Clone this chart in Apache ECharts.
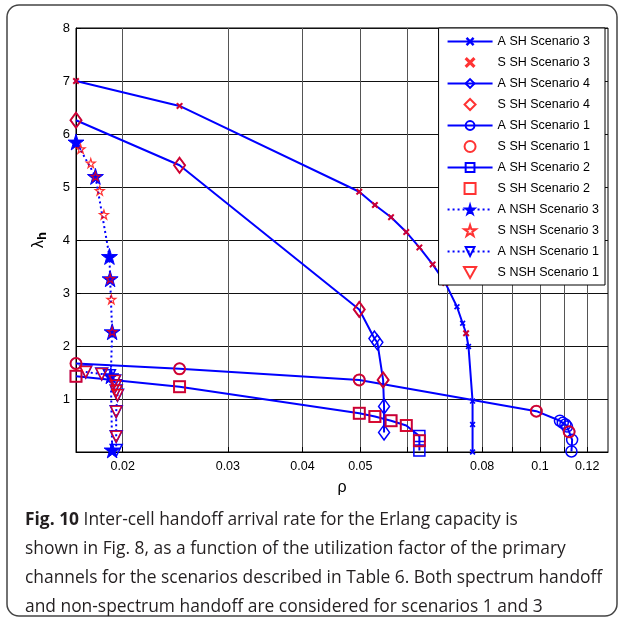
<!DOCTYPE html>
<html>
<head>
<meta charset="utf-8">
<script src="https://cdn.jsdelivr.net/npm/echarts@6/dist/echarts.min.js"></script>
<style>
  html, body { margin: 0; padding: 0; background: #fff; }
  #chart { width: 625px; height: 619px; }
</style>
</head>
<body>
<div id="chart"></div>
<script>
// data: [rho, lambda_h]
const aSh3 = [[0.0167,7.0],[0.0249,6.53],[0.0498,4.91],[0.0529,4.66],[0.0563,4.43],[0.0597,4.15],[0.0628,3.86],[0.0661,3.54],[0.0694,3.19],[0.0726,2.74],[0.0742,2.43],[0.0752,2.24],[0.0759,1.99],[0.0771,0.96],[0.0771,0.52],[0.0771,0]];
const sSh3 = [[0.0167,7.0],[0.0249,6.53],[0.0498,4.91],[0.0529,4.66],[0.0563,4.43],[0.0597,4.15],[0.0628,3.86],[0.0661,3.54],[0.0694,3.19],[0.0752,2.24]];
const aSh4 = [[0.0167,6.26],[0.0249,5.41],[0.0498,2.69],[0.0528,2.14],[0.0534,2.07],[0.0546,1.36],[0.0548,0.86],[0.0548,0.37]];
const sSh4 = [[0.0167,6.26],[0.0249,5.41],[0.0498,2.69],[0.0546,1.36]];
const aSh1 = [[0.0167,1.67],[0.0249,1.57],[0.0498,1.36],[0.0986,0.77],[0.108,0.59],[0.1092,0.55],[0.1103,0.52],[0.111,0.48],[0.1119,0.38],[0.1132,0.23],[0.1129,0.01]];
const sSh1 = [[0.0167,1.67],[0.0249,1.57],[0.0498,1.36],[0.0986,0.77],[0.1119,0.38]];
const aSh2 = [[0.0167,1.43],[0.0249,1.23],[0.0498,0.73],[0.0529,0.67],[0.0563,0.59],[0.0597,0.5],[0.0628,0.3],[0.0628,0.21],[0.0628,0.03]];
const sSh2 = [[0.0167,1.43],[0.0249,1.23],[0.0498,0.73],[0.0529,0.67],[0.0563,0.59],[0.0597,0.5],[0.0628,0.21]];
const aNsh3 = [[0.0167,5.85],[0.018,5.2],[0.019,3.69],[0.01905,3.27],[0.0192,2.27],[0.0191,1.44],[0.0192,0.04]];
const sNsh3 = [[0.017,5.72],[0.01768,5.45],[0.018,5.2],[0.0183,4.93],[0.0186,4.48],[0.01905,3.27],[0.01914,2.88],[0.0192,2.27]];
const aNsh1 = [[0.01734,1.51],[0.01844,1.47],[0.019,1.44],[0.01939,1.34],[0.01945,1.25],[0.0195,1.15],[0.0196,1.07],[0.0195,0.76],[0.0195,0.29],[0.0195,0.03]];
const sNsh1 = [[0.01734,1.51],[0.01844,1.47],[0.01939,1.34],[0.01945,1.25],[0.0195,1.15],[0.0196,1.07],[0.0195,0.76],[0.0195,0.29]];

const xTicks = [0.02,0.03,0.04,0.05,0.06,0.07,0.08,0.09,0.1,0.11,0.12];
const xLabels = [0.02,0.03,0.04,0.05,0.08,0.1,0.12];

const BLUE = '#0000ff';
const RED = '#ff0000';
const NONE = 'rgba(0,0,0,0)';
// marker shapes as paths so the legend keeps their aspect
const XMARK = 'path://M0,2L2,0L5,3L8,0L10,2L7,5L10,8L8,10L5,7L2,10L0,8L3,5Z';
const STAR = 'path://M50,0L61,35L98,35L68,57L79,91L50,70L21,91L32,57L2,35L39,35Z';
const DIAMOND = 'path://M5,0L10,5L5,10L0,5Z';
const SQUARE = 'path://M0,0L10,0L10,10L0,10Z';
const TRIDOWN = 'path://M0,0L10,0L5,9Z';

function aLine(name, data, symbol, size, dotted, extra) {
  return Object.assign({
    name: name, type: 'line', data: data, z: 2,
    symbol: symbol, symbolSize: size,
    lineStyle: { color: BLUE, width: 2, type: dotted ? [2, 3] : 'solid' },
    itemStyle: { color: NONE, borderColor: BLUE, borderWidth: 1.5 },
    emphasis: { disabled: true }
  }, extra || {});
}
function sDots(name, data, symbol, size, extra) {
  return Object.assign({
    name: name, type: 'scatter', data: data, z: 4,
    symbol: symbol, symbolSize: size,
    itemStyle: { color: NONE, borderColor: RED, borderWidth: 2 },
    emphasis: { disabled: true }
  }, extra || {});
}

let chart = echarts.init(document.getElementById('chart'));
chart.setOption({
  animation: false,
  textStyle: { fontFamily: 'Liberation Sans, Arial, sans-serif' },
  grid: { left: 76, right: 17, top: 28, bottom: 167, show: true, borderColor: '#000', borderWidth: 1 },
  xAxis: {
    type: 'log', logBase: 10, min: 0.0167, max: 0.13,
    name: 'ρ', nameLocation: 'middle', nameGap: 28,
    nameTextStyle: { fontSize: 16, color: '#000' },
    axisLine: { lineStyle: { color: '#000' } },
    axisTick: { inside: true, customValues: xTicks, lineStyle: { color: '#000' } },
    axisLabel: { customValues: xLabels, color: '#000', fontSize: 12.5, margin: 8,
      formatter: v => String(+(+v).toPrecision(3)) },
    splitLine: { show: true, lineStyle: { color: '#555', width: 1 } }
  },
  yAxis: {
    type: 'value', min: 0, max: 8, interval: 1,
    name: '{l|λ}{h|h}', nameLocation: 'middle', nameGap: 27,
    nameTextStyle: { color: '#000', rich: {
      l: { fontSize: 16, color: '#000' },
      h: { fontSize: 13, fontWeight: 'bold', color: '#000', padding: [7, 0, 0, 0] }
    } },
    axisLine: { lineStyle: { color: '#000' } },
    axisTick: { inside: true, lineStyle: { color: '#000' } },
    axisLabel: { color: '#000', fontSize: 13, margin: 6, formatter: v => v === 0 ? '' : String(v) },
    splitLine: { show: true, lineStyle: { color: '#111', width: 1 } }
  },
  legend: {
    orient: 'vertical', right: 20, top: 28,
    backgroundColor: '#fff', borderColor: '#000', borderWidth: 1, borderRadius: 0,
    padding: [7, 6, 6, 8], itemWidth: 45, itemHeight: 11, itemGap: 8,
    textStyle: { fontSize: 12.5, color: '#000' },
    selectedMode: false, z: 10
  },
  series: [
    aLine('A SH Scenario 3', aSh3, XMARK, 6, false, { itemStyle: { color: BLUE } }),
    sDots('S SH Scenario 3', sSh3, XMARK, 7, { itemStyle: { color: RED } }),
    aLine('A SH Scenario 4', aSh4, DIAMOND, [11, 15], false),
    sDots('S SH Scenario 4', sSh4, DIAMOND, [11, 15]),
    aLine('A SH Scenario 1', aSh1, 'circle', 11, false),
    sDots('S SH Scenario 1', sSh1, 'circle', 11),
    aLine('A SH Scenario 2', aSh2, SQUARE, 11, false),
    sDots('S SH Scenario 2', sSh2, SQUARE, 11),
    aLine('A NSH Scenario 3', aNsh3, STAR, 16, true, { itemStyle: { color: BLUE, borderColor: BLUE, borderWidth: 1 } }),
    sDots('S NSH Scenario 3', sNsh3, STAR, 9, { itemStyle: { color: NONE, borderColor: RED, borderWidth: 1.2 } }),
    aLine('A NSH Scenario 1', aNsh1, TRIDOWN, 12, true),
    sDots('S NSH Scenario 1', sNsh1, TRIDOWN, 11, { itemStyle: { color: NONE, borderColor: RED, borderWidth: 1.5 } })
  ],
  graphic: [
    {
      type: 'rect', z: -1, silent: true,
      shape: { x: 7, y: 5, width: 610, height: 611, r: 12 },
      style: { fill: 'none', stroke: '#444', lineWidth: 1.5 }
    },
    {
      type: 'text', left: 25, top: 506, silent: true,
      style: {
        text: '{b|Fig. 10} Inter-cell handoff arrival rate for the Erlang capacity is\n' +
              'shown in Fig. 8, as a function of the utilization factor of the primary\n' +
              'channels for the scenarios described in Table 6. Both spectrum handoff\n' +
              'and non-spectrum handoff are considered for scenarios 1 and 3',
        font: '17.4px "Open Sans", sans-serif', fill: '#231f20', lineHeight: 29,
        rich: { b: { font: 'bold 17.4px "Open Sans", sans-serif', fill: '#231f20', lineHeight: 29 } }
      }
    }
  ]
});
</script>
</body>
</html>
